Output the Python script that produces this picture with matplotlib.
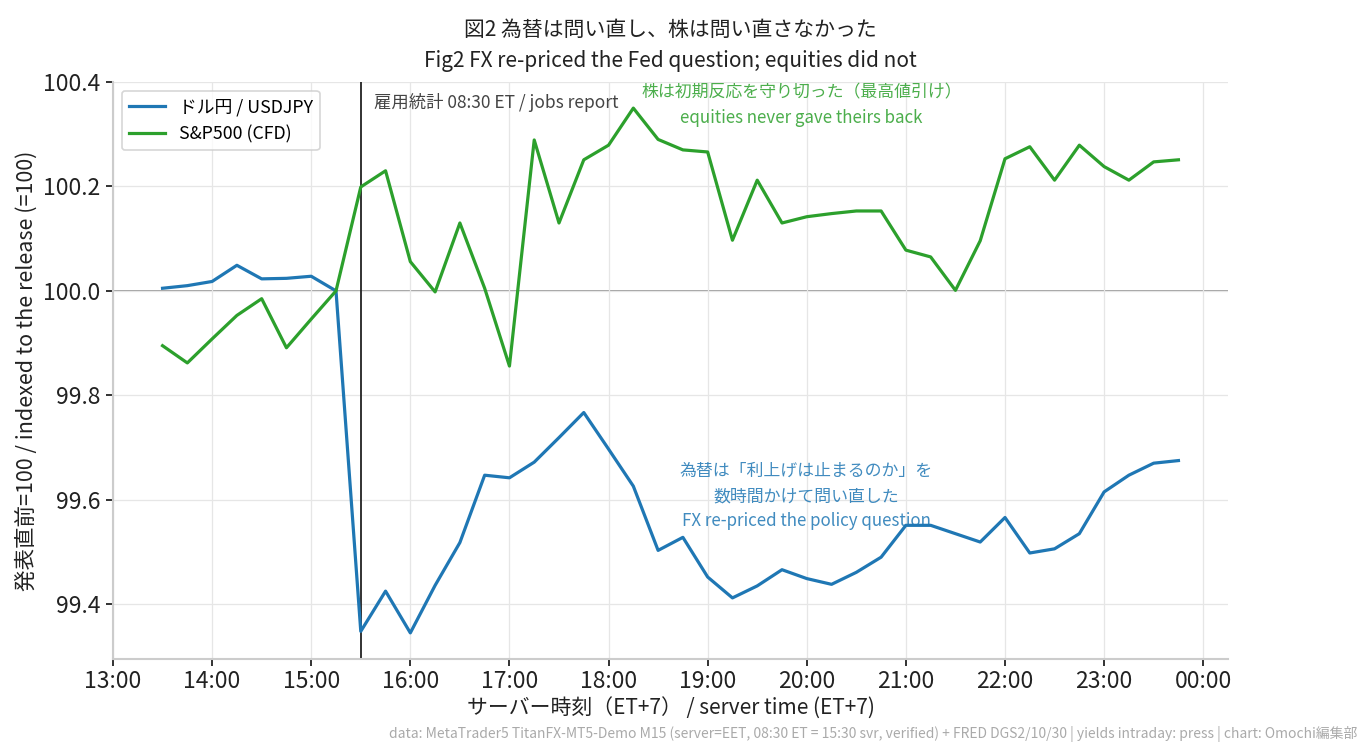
import matplotlib
matplotlib.use("Agg")
import matplotlib.pyplot as plt
import matplotlib.dates as mdates
import pandas as pd

plt.rcParams['font.family'] = ['Noto Sans CJK JP', 'DejaVu Sans']

times = ["13:30", "13:45", "14:00", "14:15", "14:30", "14:45", "15:00", "15:15",
         "15:30", "15:45", "16:00", "16:15", "16:30", "16:45", "17:00", "17:15",
         "17:30", "17:45", "18:00", "18:15", "18:30", "18:45", "19:00", "19:15",
         "19:30", "19:45", "20:00", "20:15", "20:30", "20:45", "21:00", "21:15",
         "21:30", "21:45", "22:00", "22:15", "22:30", "22:45", "23:00", "23:15",
         "23:30", "23:45"]

usdjpy = [100.005, 100.010, 100.018, 100.049, 100.023, 100.024, 100.028, 100.000,
          99.348, 99.425, 99.345, 99.436, 99.518, 99.647, 99.642, 99.672,
          99.719, 99.767, 99.697, 99.626, 99.503, 99.528, 99.452, 99.412,
          99.435, 99.466, 99.449, 99.438, 99.461, 99.490, 99.551, 99.551,
          99.535, 99.519, 99.566, 99.498, 99.506, 99.535, 99.615, 99.647,
          99.670, 99.675]

spx = [99.895, 99.862, 99.908, 99.953, 99.985, 99.891, 99.946, 100.000,
       100.199, 100.230, 100.056, 99.998, 100.130, 100.005, 99.856, 100.289,
       100.130, 100.251, 100.279, 100.350, 100.290, 100.270, 100.266, 100.097,
       100.212, 100.130, 100.142, 100.148, 100.153, 100.153, 100.078, 100.065,
       100.001, 100.096, 100.253, 100.276, 100.212, 100.279, 100.238, 100.212,
       100.247, 100.251]

series_labels = ["ドル円 / USDJPY", "S&P500 (CFD)"]
release_time = "15:30"
xlim_times = ["2024-01-01 13:00", "2024-01-02 00:15"]
tick_times = ["13:00", "14:00", "15:00", "16:00", "17:00", "18:00", "19:00",
              "20:00", "21:00", "22:00", "23:00", "00:00"]
yticks = [99.4, 99.6, 99.8, 100.0, 100.2, 100.4]

base = "2024-01-01 "
t = pd.to_datetime([base + s for s in times])
rel = pd.to_datetime(base + release_time)
tk = pd.to_datetime([("2024-01-02 " if s == "00:00" else base) + s for s in tick_times])

fig = plt.figure(figsize=(13.72, 7.53), dpi=100)
ax = fig.add_axes([113/1372, 1-659/753, (1228-113)/1372, (659-82)/753])

ax.grid(True, color="#e6e6e6", lw=0.9, zorder=0)
ax.axhline(100.0, color="#a0a0a0", lw=1.4, zorder=1)
ax.axvline(rel, color="#222222", lw=1.3, zorder=2)

ax.plot(t, usdjpy, color="#1f77b4", lw=2.3, label=series_labels[0], zorder=3)
ax.plot(t, spx, color="#2ca02c", lw=2.3, label=series_labels[1], zorder=3)

ax.set_xlim(pd.to_datetime(xlim_times[0]), pd.to_datetime(xlim_times[1]))
ax.set_ylim(99.295, 100.4)
ax.set_xticks(tk)
ax.xaxis.set_major_formatter(mdates.DateFormatter("%H:%M"))
ax.set_yticks(yticks)
ax.set_yticklabels([f"{v:.1f}" for v in yticks])
ax.tick_params(axis="both", labelsize=16.5, length=5, width=1.3, color="#222222", colors="#222222")
ax.tick_params(axis="x", pad=3)
ax.tick_params(axis="y", pad=4)

for s in ["top", "right"]:
    ax.spines[s].set_visible(False)
for s in ["left", "bottom"]:
    ax.spines[s].set_color("#cccccc")
    ax.spines[s].set_linewidth(1.5)

ax.set_xlabel("サーバー時刻（ET+7） / server time (ET+7)", fontsize=15, color="#222222", labelpad=3)
ax.set_ylabel("発表直前=100 / indexed to the release (=100)", fontsize=15.5, color="#222222", labelpad=4)

fig.text(670.5/1372, 1-45.5/753,
         "図2 為替は問い直し、株は問い直さなかった\nFig2 FX re-priced the Fed question; equities did not",
         fontsize=15, color="#222222", linespacing=1.5, ha="center", va="center")

ax.text(0.234, 0.965, "雇用統計 08:30 ET / jobs report", transform=ax.transAxes,
        fontsize=12.5, color="#444444", ha="left", va="center")
ax.text(0.6175, 0.960, "株は初期反応を守り切った（最高値引け）\nequities never gave theirs back",
        transform=ax.transAxes, fontsize=12.2, color="#2ca02c", alpha=0.85,
        ha="center", va="center", linespacing=1.55)
ax.text(0.622, 0.2825, "為替は「利上げは止まるのか」を\n数時間かけて問い直した\nFX re-priced the policy question",
        transform=ax.transAxes, fontsize=12.2, color="#1f77b4", alpha=0.85,
        ha="center", va="center", linespacing=1.5)

leg = ax.legend(loc="upper left", fontsize=12.8, frameon=True, fancybox=True,
                edgecolor="#cccccc", borderaxespad=0.5, handlelength=2.0)
leg.get_frame().set_linewidth(1.2)

fig.text(1357/1372, 1-734/753,
         "data: MetaTrader5 TitanFX-MT5-Demo M15 (server=EET, 08:30 ET = 15:30 svr, verified) + FRED DGS2/10/30 | yields intraday: press | chart: Omochi編集部",
         fontsize=10, color="#aaaaaa", ha="right", va="center")

fig.savefig("out.png", dpi=100)
